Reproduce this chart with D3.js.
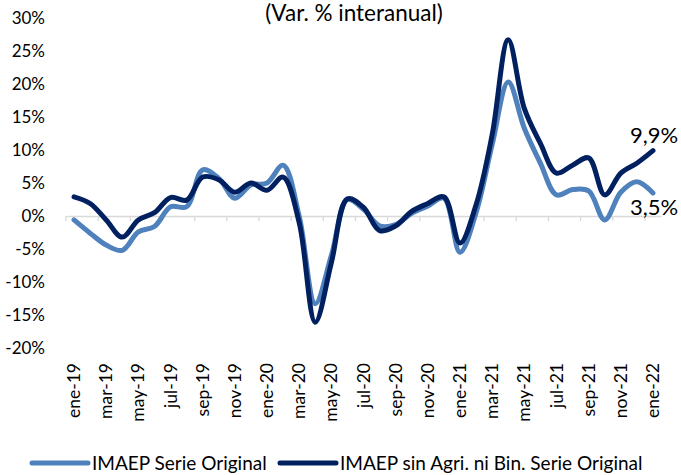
<!DOCTYPE html>
<html>
<head>
<meta charset="utf-8">
<script src="https://cdn.jsdelivr.net/npm/d3@7"></script>
<style>
  body { margin: 0; background: #fff; }
  svg { font-family: Lato, "Noto Sans", sans-serif; fill: #000; }
</style>
</head>
<body>
<svg width="681" height="475"></svg>
<script>
var width = 681;
var height = 475;

var months = ["ene-19","feb-19","mar-19","abr-19","may-19","jun-19","jul-19","ago-19","sep-19","oct-19","nov-19","dic-19",
              "ene-20","feb-20","mar-20","abr-20","may-20","jun-20","jul-20","ago-20","sep-20","oct-20","nov-20","dic-20",
              "ene-21","feb-21","mar-21","abr-21","may-21","jun-21","jul-21","ago-21","sep-21","oct-21","nov-21","dic-21",
              "ene-22"];

var tickLabels = ["ene-19","mar-19","may-19","jul-19","sep-19","nov-19","ene-20","mar-20","may-20","jul-20",
                  "sep-20","nov-20","ene-21","mar-21","may-21","jul-21","sep-21","nov-21","ene-22"];

// IMAEP Serie Original
var serieOriginal = [-0.6, -2.6, -4.4, -5.2, -2.4, -1.6, 1.4, 1.4, 7.0, 5.7, 2.7, 4.7,
                     5.0, 7.7, 0.0, -13.3, -6.0, 2.5, 1.0, -1.5, -1.3, 0.4, 1.5, 2.7,
                     -5.5, 0.5, 10.8, 20.3, 13.3, 8.0, 3.2, 4.0, 3.8, -0.6, 3.6, 5.2,
                     3.5];

// IMAEP sin Agri. ni Bin. Serie Original
var serieSinAgri = [2.9, 1.9, -0.6, -3.2, -0.6, 0.5, 2.8, 2.4, 5.9, 5.5, 3.6, 5.0,
                    3.9, 5.9, -1.0, -16.1, -7.1, 2.6, 1.3, -2.2, -1.5, 0.7, 1.9, 2.9,
                    -4.1, 1.7, 12.3, 26.7, 16.3, 11.0, 6.5, 7.7, 8.8, 3.2, 6.5, 8.0,
                    9.9];

var yTicks = [-20, -15, -10, -5, 0, 5, 10, 15, 20, 25, 30];

var colorLight = "#4f81bd";
var colorDark = "#002060";

var svg = d3.select("svg");

var x = d3.scaleBand()
          .domain(months)
          .range([66, 661])
          .padding(0);

var y = d3.scaleLinear()
          .domain([-20, 30])
          .range([348, 18]);

var bw = x.bandwidth();
var cx = d => x(d) + bw / 2;

// title
svg.append("text")
    .attr("x", 354)
    .attr("y", 21)
    .attr("text-anchor", "middle")
    .attr("font-size", "22.5px")
    .text("(Var. % interanual)");

// y axis labels
var yAxis = d3.axisLeft(y)
              .tickValues(yTicks)
              .tickSize(0)
              .tickPadding(0)
              .tickFormat(d => String(d).replace("\u2212", "-") + "%");

var gy = svg.append("g")
    .attr("transform", "translate(45,0)")
    .call(yAxis);
gy.select(".domain").remove();
gy.selectAll("text")
    .attr("font-size", "17px")
    .attr("font-family", "Lato, 'Noto Sans', sans-serif")
    .attr("fill", "#000");

// x axis (zero line, ticks between categories)
var xAxis = d3.axisBottom(x)
              .tickValues(tickLabels)
              .tickSize(5)
              .tickSizeOuter(0);

var gx = svg.append("g")
    .attr("transform", "translate(0," + y(0) + ")")
    .call(xAxis);
gx.select(".domain").attr("stroke", "#d9d9d9").attr("stroke-width", 1.3);
gx.selectAll(".tick line")
    .attr("stroke", "#d9d9d9")
    .attr("stroke-width", 1.3)
    .attr("x1", -bw / 2)
    .attr("x2", -bw / 2);
gx.selectAll(".tick text")
    .attr("font-size", "17.5px")
    .attr("font-family", "Lato, 'Noto Sans', sans-serif")
    .attr("fill", "#000")
    .attr("text-anchor", "end")
    .attr("transform", "translate(0," + (363 - y(0)) + ") rotate(-90)")
    .attr("x", 0)
    .attr("y", 0)
    .attr("dy", "0.35em");

// lines
var line = d3.line()
             .x((d, i) => cx(months[i]))
             .y(d => y(d))
             .curve(d3.curveCatmullRom.alpha(0.5));

svg.append("path")
    .datum(serieOriginal)
    .attr("fill", "none")
    .attr("stroke", colorLight)
    .attr("stroke-width", 5)
    .attr("stroke-linejoin", "round")
    .attr("stroke-linecap", "round")
    .attr("d", line);

svg.append("path")
    .datum(serieSinAgri)
    .attr("fill", "none")
    .attr("stroke", colorDark)
    .attr("stroke-width", 5)
    .attr("stroke-linejoin", "round")
    .attr("stroke-linecap", "round")
    .attr("d", line);

// end labels
var last = months.length - 1;
var fmt = v => v.toFixed(1).replace(".", ",") + "%";

svg.append("text")
    .attr("x", cx(months[last]) - 23)
    .attr("y", y(serieSinAgri[last]) - 8)
    .attr("font-size", "22px")
    .text(fmt(serieSinAgri[last]));

svg.append("text")
    .attr("x", cx(months[last]) - 23)
    .attr("y", y(serieOriginal[last]) + 22)
    .attr("font-size", "22px")
    .text(fmt(serieOriginal[last]));

// legend
var legend = [
  { name: "IMAEP Serie Original", color: colorLight, x: 30 },
  { name: "IMAEP sin Agri. ni Bin. Serie Original", color: colorDark, x: 278 }
];

var lg = svg.selectAll(".legend")
    .data(legend)
    .enter()
    .append("g")
      .attr("class", "legend")
      .attr("transform", d => "translate(" + d.x + ",463)");

lg.append("line")
    .attr("x1", 2)
    .attr("x2", 58)
    .attr("stroke", d => d.color)
    .attr("stroke-width", 5)
    .attr("stroke-linecap", "round");

lg.append("text")
    .attr("x", 62)
    .attr("dy", "0.35em")
    .attr("font-size", "19px")
    .text(d => d.name);
</script>
</body>
</html>
